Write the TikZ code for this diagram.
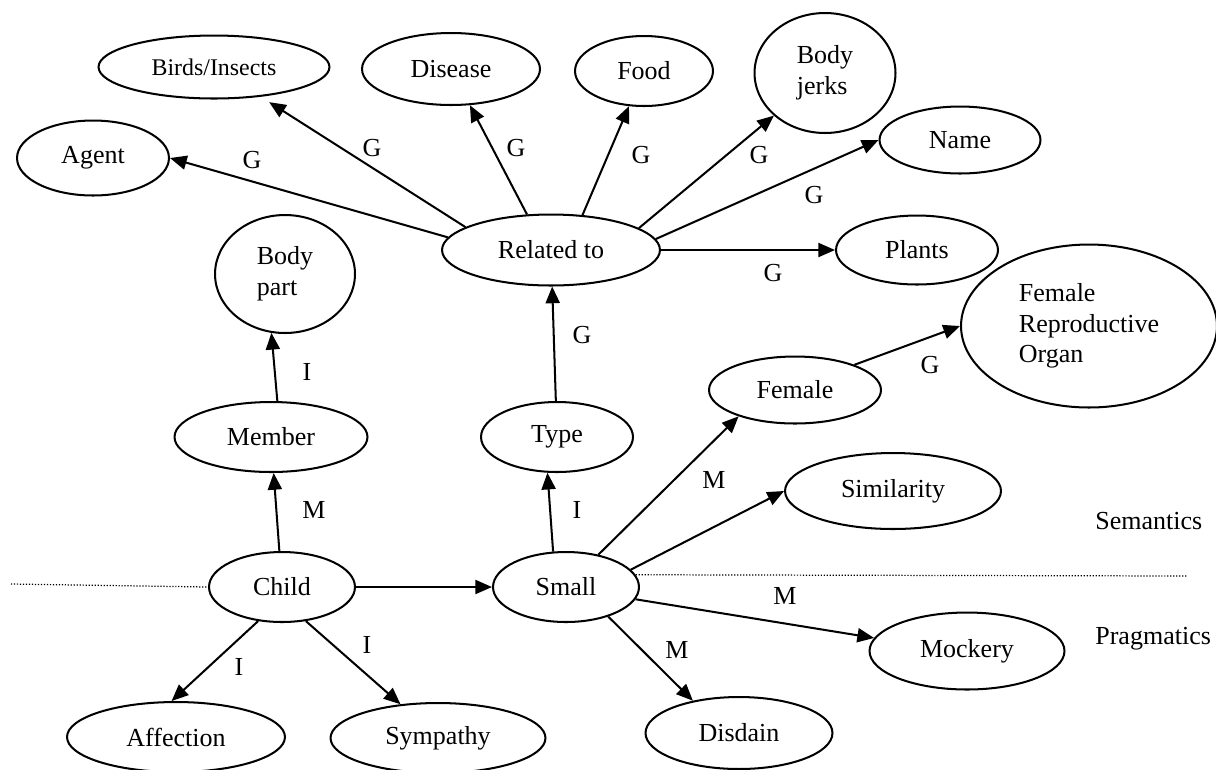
\documentclass[tikz,border=0pt]{standalone}
\usepackage{fontspec}
\setmainfont{Liberation Serif}
\usepackage{tikz}
\usetikzlibrary{shapes.geometric, positioning, arrows.meta}

\begin{document}
\begin{tikzpicture}[
        x=0.02cm, y=-0.02cm,
        >={Triangle[length=9.5pt, width=8pt]}, % Arrowhead style
        sense/.style={ellipse, draw, line width=1.15pt, inner sep=0pt, align=left,
                      font=\fontsize{14.8}{17.5}\selectfont},
        tag/.style={font=\fontsize{14.8}{17.5}\selectfont, inner sep=0pt},
        link/.style={->, line width=1.15pt},
        divider/.style={line width=0.7pt, dash pattern=on 0.7pt off 1pt}
    ]
    \useasboundingbox (0,0) rectangle (1216,769);

    % ==========================================
    % 1. SENSES
    % ==========================================
    \node[sense, minimum width=3.04cm, minimum height=1.5cm]  (Agent)    at (93, 158)  {Agent};
    \node[sense, minimum width=4.62cm, minimum height=1.26cm, font=\fontsize{13.6}{16}\selectfont]
                                                              (Birds)    at (214, 67)  {Birds/Insects};
    \node[sense, minimum width=3.56cm, minimum height=1.44cm] (Disease)  at (451, 69)  {Disease};
    \node[sense, minimum width=2.76cm, minimum height=1.4cm]  (Food)     at (644, 71)  {Food};
    \node[sense, minimum width=2.82cm, minimum height=2.4cm]  (Jerks)    at (825, 73)  {Body\\jerks};
    \node[sense, minimum width=3.22cm, minimum height=1.34cm] (Name)     at (960, 140) {Name};
    \node[sense, minimum width=4.36cm, minimum height=1.42cm] (Related)  at (551, 250) {Related to};
    \node[sense, minimum width=3.24cm, minimum height=1.38cm] (Plants)   at (917, 250) {Plants};
    \node[sense, minimum width=2.8cm,  minimum height=2.36cm] (BodyPart) at (285, 274) {Body\\part};
    \node[sense, minimum width=5.12cm, minimum height=3.26cm] (Organ)    at (1089, 326) {Female\\Reproductive\\Organ};
    \node[sense, minimum width=3.44cm, minimum height=1.34cm] (Female)   at (795, 390) {Female};
    \node[sense, minimum width=3.86cm, minimum height=1.4cm]  (Member)   at (271, 437) {Member};
    \node[sense, minimum width=3.04cm, minimum height=1.4cm]  (Type)     at (557, 437) {Type};
    \node[sense, minimum width=4.32cm, minimum height=1.52cm] (Similar)  at (893, 491) {Similarity};
    \node[sense, minimum width=2.92cm, minimum height=1.4cm]  (Child)    at (282, 587) {Child};
    \node[sense, minimum width=2.92cm, minimum height=1.4cm]  (Small)    at (566, 587) {Small};
    \node[sense, minimum width=3.9cm,  minimum height=1.54cm] (Mockery)  at (967, 651) {Mockery};
    \node[sense, minimum width=3.74cm, minimum height=1.44cm] (Disdain)  at (739, 733) {Disdain};
    \node[sense, minimum width=4.36cm, minimum height=1.4cm]  (Affection) at (176, 737) {Affection};
    \node[sense, minimum width=4.3cm,  minimum height=1.4cm]  (Sympathy) at (438, 738) {Sympathy};

    % ==========================================
    % 2. LEVELS
    % ==========================================
    \node[tag, anchor=west] (semantics)  at (1095, 521) {Semantics};
    \node[tag, anchor=west] (pragmatics) at (1095, 639) {Pragmatics};

    \coordinate (dotL) at (11, 584);
    \coordinate (dotR) at (1187, 576);
    \draw[divider] (dotL) -- (Child.west);
    \draw[divider] (Small.10) -- (dotR);

    % ==========================================
    % 3. LINKS
    % ==========================================

    % Related to -> ...
    \draw[link] (Related.173) -- (Agent.east);
    \draw[link, shorten >=0.2cm] (Related.165) -- (Birds);
    \draw[link] (Related.124) -- (Disease);
    \draw[link] (Related.48) -- (Food);
    \draw[link] (Related.14) -- (Jerks);
    \draw[link] (Related.6) -- (Name.west);
    \draw[link] (Related) -- (Plants);

    % Type, Member -> ...
    \draw[link] (Type) -- (Related);
    \draw[link] (Member.80) -- (BodyPart.257);

    % Child -> ...
    \draw[link] (Child) -- (Member);
    \draw[link] (Child) -- (Small);
    \draw[link] (Child.235) -- (Affection.97);
    \draw[link] (Child.305) -- (Sympathy.138);

    % Small -> ...
    \draw[link] (Small.110) -- (Type.255);
    \draw[link] (Small.45) -- (Female.205);
    \draw[link] (Small.15) -- (Similar.west);
    \draw[link] (Small.350) -- (Mockery.172);
    \draw[link] (Small.325) -- (Disdain.145);
    \draw[link] (Female.23) -- (Organ.west);

    % ==========================================
    % 4. LINK LABELS
    % ==========================================
    \node[tag] (gAgent)   at (252, 160) {G};
    \node[tag] (gBirds)   at (372, 148) {G};
    \node[tag] (gDisease) at (516, 148) {G};
    \node[tag] (gFood)    at (641, 155) {G};
    \node[tag] (gJerks)   at (759, 155) {G};
    \node[tag] (gName)    at (814, 195) {G};
    \node[tag] (gPlants)  at (773, 273) {G};
    \node[tag] (gType)    at (582, 335) {G};
    \node[tag] (gOrgan)   at (930, 365) {G};

    \node[tag] (iBody)    at (307, 372) {I};
    \node[tag] (iType)    at (577, 510) {I};
    \node[tag] (iAffect)  at (239, 667) {I};
    \node[tag] (iSymp)    at (367, 645) {I};

    \node[tag] (mMember)  at (314, 510) {M};
    \node[tag] (mFemale)  at (714, 480) {M};
    \node[tag] (mMock)    at (785, 596) {M};
    \node[tag] (mDisdain) at (677, 650) {M};

\end{tikzpicture}
\end{document}
